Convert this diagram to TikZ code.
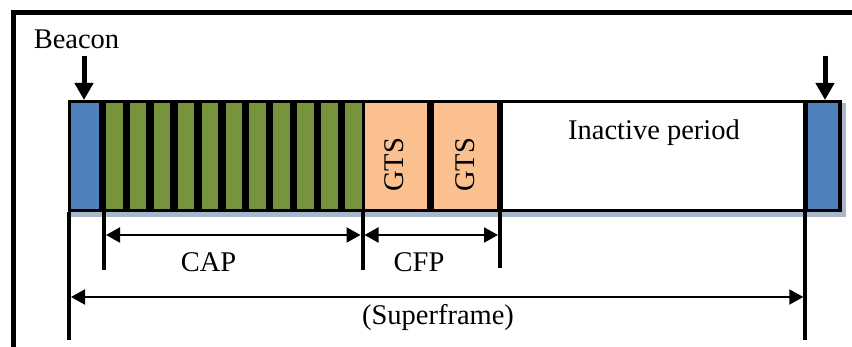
\documentclass[tikz,border=0pt]{standalone}
\usepackage{fontspec}
\setmainfont{Liberation Serif}
\usetikzlibrary{arrows.meta}
\definecolor{bblue}{HTML}{4F81BD}
\definecolor{sgreen}{HTML}{77933C}
\definecolor{gtsor}{HTML}{FAC090}
\definecolor{shad}{HTML}{A9B7CB}
\tikzset{
 cell/.style={inner sep=0pt, outer sep=0pt, anchor=north west, minimum height=106pt},
 lbl/.style={font=\fontsize{28.5}{34}\selectfont, inner sep=0pt, outer sep=0pt},
 tickline/.style={line width=4pt},
 dimline/.style={line width=2pt, {Triangle[length=14pt,width=15pt]}-{Triangle[length=14pt,width=15pt]}},
 bcnarrow/.style={line width=5pt, -{Triangle[length=17pt,width=18pt]}},
}
\begin{document}
\begin{tikzpicture}[x=1pt,y=-1pt]
\useasboundingbox (0,0) rectangle (852,347);
\clip (0,0) rectangle (852,347);
% outer frame
\draw[line width=5pt] (13.5,420) -- (13.5,12.5) -- (900,12.5);
% shadow strip
\fill[shad] (70,211) rectangle (846,217.5);
\fill[shad] (840,103) rectangle (846,217.5);
% bar
\node[fill=black, inner sep=0pt, outer sep=0pt, anchor=north west, minimum width=774pt, minimum height=112pt] (bar) at (68,100) {};
\node[cell, fill=bblue, minimum width=28pt] (bcn1) at (71,103) {};
\foreach \i in {0,...,10} {
  \node[cell, fill=sgreen, minimum width=16.5pt] (g\i) at ({106+23.9*\i},103) {};
}
\node[cell, fill=gtsor, minimum width=62pt] (gts1) at (365,103) {};
\node[cell, fill=gtsor, minimum width=63pt] (gts2) at (434,103) {};
\node[cell, fill=white, minimum width=300pt] (inact) at (503,103) {};
\node[cell, fill=bblue, minimum width=30pt] (bcn2) at (808,103) {};
% texts in bar
\node[lbl, rotate=90, anchor=center] (gtstxt1) at (394,165) {GTS};
\node[lbl, rotate=90, anchor=center] (gtstxt2) at (465,165) {GTS};
\node[lbl, anchor=base] (inacttxt) at (654,140) {Inactive period};
% beacon
\node[lbl, anchor=base] (beacon) at (76.5,49) {Beacon};
\coordinate (a1) at (84,56);
\coordinate (a2) at (825,56);
\draw[bcnarrow] (a1) -- (a1 |- bar.north);
\draw[bcnarrow] (a2) -- (a2 |- bar.north);
% ticks
\coordinate (t0) at (69,340);
\coordinate (t1) at (104,270);
\coordinate (t2) at (362.5,270);
\coordinate (t3) at (500,268);
\coordinate (t4) at (805.3,340);
\foreach \t in {t0,t1,t2,t3,t4} {
  \draw[tickline] (\t |- bar.south) -- (\t);
}
% dimension arrows
\coordinate (capL) at (106,235);
\coordinate (capR) at (360.5,235);
\coordinate (cfpL) at (364.5,235);
\coordinate (cfpR) at (498,235);
\coordinate (supL) at (71,297);
\coordinate (supR) at (803.3,297);
\draw[dimline] (capL) -- (capR);
\draw[dimline] (cfpL) -- (cfpR);
\draw[dimline] (supL) -- (supR);
\node[lbl, anchor=base] (cap) at (208.5,272) {CAP};
\node[lbl, anchor=base] (cfp) at (419,272) {CFP};
\node[lbl, anchor=base] (sup) at (438,325) {(Superframe)};
\end{tikzpicture}
\end{document}
